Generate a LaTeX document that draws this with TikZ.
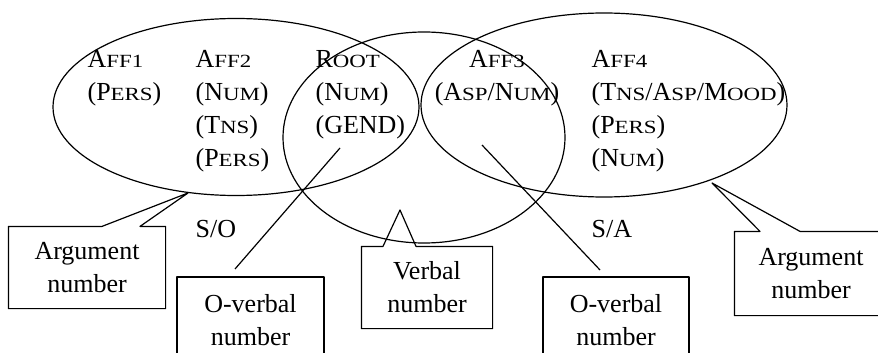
\documentclass[tikz,border=0pt]{standalone}
\usepackage{fontspec}
\setmainfont{Liberation Serif}
\newfontfamily\smfont[FakeStretch=1.23]{Liberation Serif}
\usetikzlibrary{shapes.geometric}
\newcommand\smc[1]{{\smfont\fontsize{9.3}{9.3}\selectfont #1}}
\begin{document}
\begin{tikzpicture}[x=0.5pt, y=-0.5pt, line width=0.6pt, line join=round,
  font=\fontsize{13}{16.5}\selectfont,
  blob/.style={draw, ellipse, inner sep=0pt},
  col/.style={anchor=north west, align=left, inner sep=0pt},
  box/.style={align=center, inner sep=0pt}]
\useasboundingbox (0,0) rectangle (878,353);
\clip (0,0) rectangle (878,353);
% the three domains
\node[blob, minimum width=183pt, minimum height=88.5pt] (ellS) at (236,107) {};
\node[blob, minimum width=141pt, minimum height=105.5pt] (ellV) at (424,137.5) {};
\node[blob, minimum width=183pt, minimum height=92pt] (ellA) at (604,105) {};
% morpheme columns
\node[col] (aff1) at (87,50) {A\smc{FF1}\\(P\smc{ERS})};
\node[col] (aff2) at (195,50) {A\smc{FF2}\\(N\smc{UM})\\(T\smc{NS})\\(P\smc{ERS})};
\node[col] (root) at (315,50) {R\smc{OOT}\\(N\smc{UM})\\(GEND)};
\node[col, anchor=north, align=center] (aff3) at (497,50) {A\smc{FF3}\\(A\smc{SP}/N\smc{UM})};
\node[col] (aff4) at (591,50) {A\smc{FF4}\\(T\smc{NS}/A\smc{SP}/M\smc{OOD})\\(P\smc{ERS})\\(N\smc{UM})};
\node[anchor=base west, inner sep=0pt] (so) at (195,237) {S/O};
\node[anchor=base west, inner sep=0pt] (sa) at (591,237) {S/A};
% callouts
\node[box, minimum width=78pt, minimum height=40.5pt] (argL) at (87,267.5) {Argument\\number};
\node[box, minimum width=65pt, minimum height=40.5pt] (verb) at (427,287.5) {Verbal\\number};
\node[box, minimum width=76pt, minimum height=41.5pt] (argR) at (811,273.5) {Argument\\number};
\node[box, draw, minimum width=73.5pt, minimum height=43pt] (ovL) at (250.5,320) {O-verbal\\number};
\node[box, draw, minimum width=73pt, minimum height=43pt] (ovR) at (616,320) {O-verbal\\number};
\coordinate (argLtip) at (188,193);
\coordinate (verbtip) at (400,210);
\coordinate (argRtip) at (712,183);
\coordinate (gendPt) at (340,148);
\coordinate (asnPt) at (482,145);
\coordinate (ovLend) at (235,269);
\coordinate (ovRend) at (600,270);
\draw (argL.north west) -- ([xshift=7.5pt]argL.north) -- (argLtip) -- ([xshift=26.5pt]argL.north)
  -- (argL.north east) |- (argL.south west) -- cycle;
\draw (verb.north west) -- ([xshift=-22pt]verb.north) -- (verbtip) -- ([xshift=-5.5pt]verb.north)
  -- (verb.north east) |- (verb.south west) -- cycle;
\draw (argR.north west) -- ([xshift=-25.5pt]argR.north) -- (argRtip) -- ([xshift=-5.5pt]argR.north)
  -- (argR.north east) |- (argR.south west) -- cycle;
\draw (ovLend) -- (gendPt);
\draw (ovRend) -- (asnPt);
\end{tikzpicture}
\end{document}
